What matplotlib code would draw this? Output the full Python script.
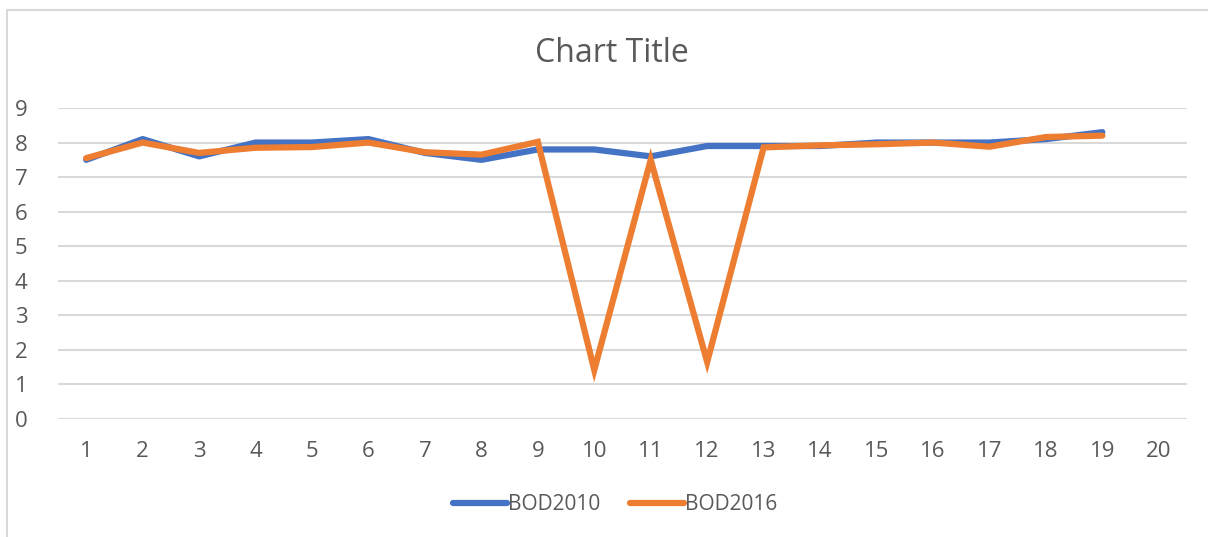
import matplotlib.pyplot as plt
from matplotlib.patches import Rectangle

# дані з графіка
categories = list(range(1, 21))
bod2010 = [7.5, 8.1, 7.6, 8.0, 8.0, 8.1, 7.7, 7.5, 7.8, 7.8,
           7.6, 7.9, 7.9, 7.9, 8.0, 8.0, 8.0, 8.1, 8.3]
bod2016 = [7.55, 8.0, 7.7, 7.85, 7.87, 8.0, 7.72, 7.65, 8.02, 1.42,
           7.5, 1.65, 7.86, 7.92, 7.95, 8.0, 7.88, 8.16, 8.2]
y_ticks = list(range(0, 10))

plt.rcParams['font.family'] = ['Open Sans', 'DejaVu Sans']

fig = plt.figure(figsize=(12.08, 5.37), dpi=100)
W, H = 1208, 537

# рамка навколо діаграми
fig.patches.append(Rectangle((7 / W, -0.1), 1.2, 1 - 10 / H + 0.1, transform=fig.transFigure,
                             fill=False, edgecolor='#d9d9d9', linewidth=1.5))

ax = fig.add_axes([58 / W, (H - 419) / H, (1187 - 58) / W, (419 - 108) / H])

ax.plot(categories[:len(bod2010)], bod2010, color='#4472c4', linewidth=4.5,
        solid_joinstyle='round', solid_capstyle='round', label='BOD2010')
ax.plot(categories[:len(bod2016)], bod2016, color='#ed7d31', linewidth=4.5,
        solid_joinstyle='miter', solid_capstyle='round', label='BOD2016')

ax.set_xlim(0.5, 20.5)
ax.set_ylim(0, 9)
ax.set_yticks(y_ticks)
ax.set_xticks(categories)
ax.grid(axis='y', color='#d9d9d9', linewidth=1.5)
ax.set_axisbelow(True)
for s in ax.spines.values():
    s.set_visible(False)
ax.tick_params(length=0, labelsize=16, labelcolor='#595959')
ax.tick_params(axis='x', pad=16)
ax.tick_params(axis='y', pad=22)

fig.text(612 / W, 1 - 54 / H, 'Chart Title', ha='center', va='center',
         fontsize=23, color='#595959')

fig.legend(loc='center', bbox_to_anchor=(615 / W, 1 - 505 / H), ncol=2, frameon=False,
           fontsize=15, labelcolor='#595959', handlelength=2.6, handletextpad=0.05,
           columnspacing=1.4)

fig.savefig('out.png', dpi=100)
